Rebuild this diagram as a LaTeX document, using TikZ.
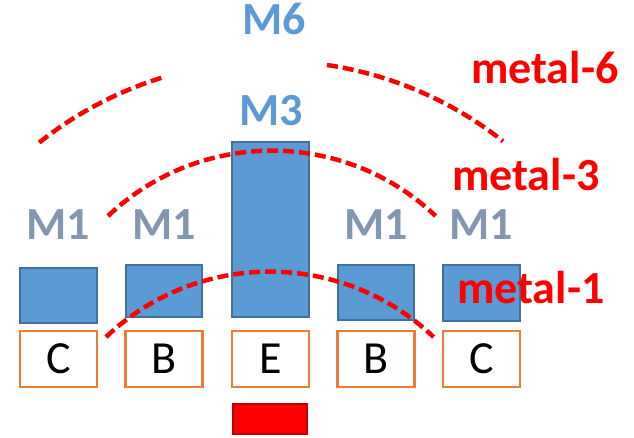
\documentclass[tikz,border=0pt]{standalone}
\usepackage{fontspec}
\setmainfont{Carlito}
\usepackage{xcolor}
\usepackage{tikz}

\definecolor{cellblue}{HTML}{5B9BD5}
\definecolor{cellline}{HTML}{41719C}
\definecolor{labgray}{HTML}{8497B0}
\definecolor{difforange}{HTML}{ED7D31}
\definecolor{deepred}{HTML}{C00000}

\begin{document}
\begin{tikzpicture}[x=1pt, y=-1pt,
  every node/.style={font=\fontsize{46}{46}\selectfont},
  metal/.style={draw=cellline, fill=cellblue, line width=2.5pt, inner sep=0pt},
  diff/.style={draw=difforange, fill=white, line width=2.6pt, inner sep=0pt,
    minimum width=77pt, minimum height=56pt},
  wire/.style={red, line width=4.5pt, dash pattern=on 11pt off 5pt},
  mlab/.style={font=\fontsize{46}{46}\selectfont\bfseries, anchor=base},
  wlab/.style={font=\fontsize{46}{46}\selectfont\bfseries, text=red, anchor=base west, inner sep=0pt}]
  \useasboundingbox (0,0) rectangle (634,438);

  % metal stacks
  \node[metal, minimum width=77pt, minimum height=55pt]  (m1a) at (58.5,295.5) {};
  \node[metal, minimum width=76pt, minimum height=52pt]  (m1b) at (164,291) {};
  \node[metal, minimum width=77pt, minimum height=175pt] (m3)  at (270.5,229.5) {};
  \node[metal, minimum width=76pt, minimum height=55pt]  (m1c) at (376,292.5) {};
  \node[metal, minimum width=77pt, minimum height=56pt]  (m1d) at (481.5,293) {};

  % diffusion cells
  \node[diff] (c1) at (58.5,359)  {C};
  \node[diff] (b1) at (164,359)   {B};
  \node[diff] (e)  at (270.5,359) {E};
  \node[diff] (b2) at (376,359)   {B};
  \node[diff] (c2) at (481.5,359) {C};
  \node[draw=deepred, fill=red, line width=2pt, minimum width=74pt, minimum height=30pt, inner sep=0pt] (pin) at (270,419) {};

  % reach arcs
  \draw[wire] (106,337) arc[start angle=-133.5, end angle=-46.5, radius=238];
  \draw[wire] (108,216) arc[start angle=-133.5, end angle=-46.5, radius=238];
  \draw[wire] (39.2,142.6) arc[start angle=-128.6, end angle=-106.6, radius=373];
  \draw[wire] (327,65) arc[start angle=-81.5, end angle=-51.7, radius=373];

  % layer labels
  \node[mlab, text=cellblue] (l6) at (274.5,35) {M6};
  \node[mlab, text=cellblue] (l3) at (271.5,126) {M3};
  \node[mlab, text=labgray] (la) at (58.5,240) {M1};
  \node[mlab, text=labgray] (lb) at (164,240) {M1};
  \node[mlab, text=labgray] (lc) at (376,240) {M1};
  \node[mlab, text=labgray] (ld) at (481.5,240) {M1};

  \node[wlab] (w6) at (471,84) {metal-6};
  \node[wlab] (w3) at (452,191) {metal-3};
  \node[wlab] (w1) at (457,303) {metal-1};
\end{tikzpicture}
\end{document}
